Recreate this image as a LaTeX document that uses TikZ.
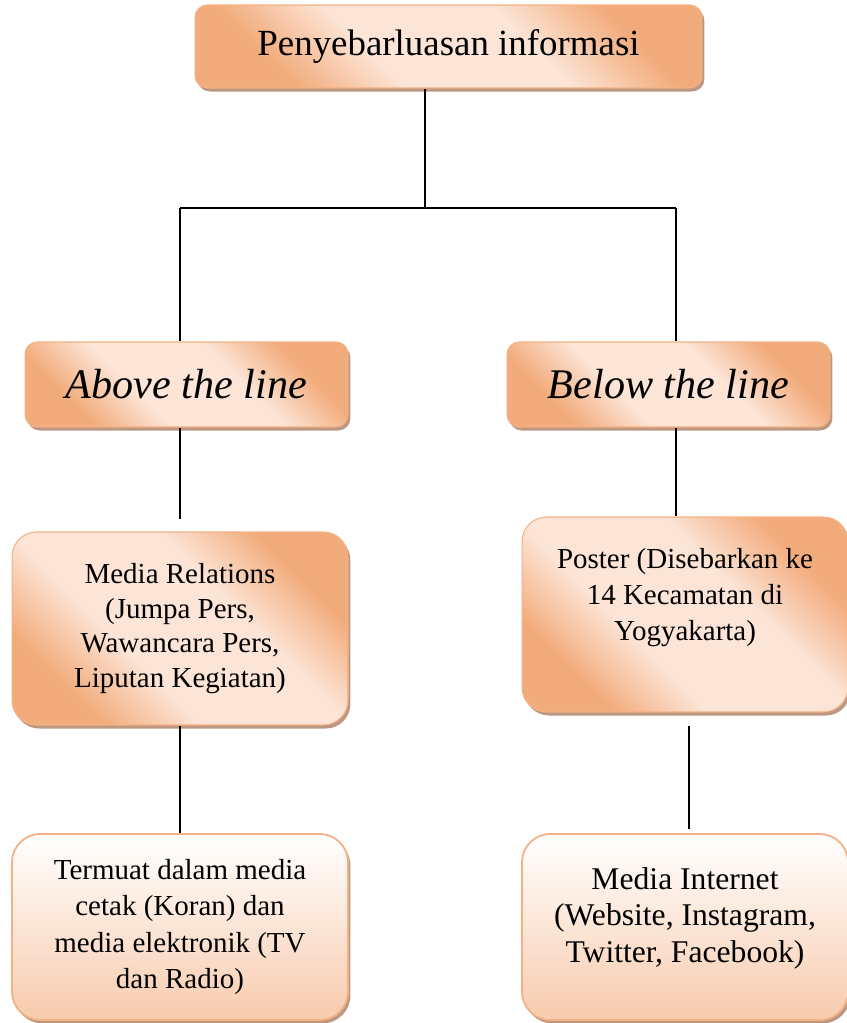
\documentclass[tikz,border=0pt]{standalone}
\usepackage{fontspec}
\setmainfont{Liberation Serif}
\usetikzlibrary{shadows}
\definecolor{peachdark}{RGB}{242,172,124}
\definecolor{peachlite}{RGB}{252,229,215}
\definecolor{peachline}{RGB}{244,177,131}
\definecolor{peachlow}{RGB}{248,203,173}
\definecolor{shadowtone}{RGB}{188,152,130}
\pgfdeclareverticalshading{peachband}{100bp}{color(0bp)=(peachdark); color(27bp)=(peachdark); color(40bp)=(peachlite); color(60bp)=(peachlite); color(73bp)=(peachdark); color(100bp)=(peachdark)}
\tikzset{
  boxshadow/.style={drop shadow={shadow xshift=1.4pt, shadow yshift=-2pt, fill=shadowtone, opacity=1}},
  bandbox/.style={draw=peachline, line width=0.6pt, shading=peachband, shading angle=-45,
    rounded corners=#1, boxshadow, align=center, inner sep=0pt},
  fadebox/.style={draw=peachline, line width=1pt, top color=white, bottom color=peachlow,
    rounded corners=#1, boxshadow, align=center, inner sep=0pt},
  link/.style={line width=1.1pt}
}
\begin{document}
\begin{tikzpicture}[x=0.02cm, y=-0.02cm, line join=round]
  \useasboundingbox (0,0) rectangle (847,1023);
  \node[bandbox=7pt, minimum width=10.14cm, minimum height=1.66cm,
    font=\fontsize{21}{25}\selectfont] (info) at (448.5,46.5) {Penyebarluasan informasi};
  \node[bandbox=7pt, minimum width=6.46cm, minimum height=1.7cm,
    font=\fontsize{24}{28}\selectfont\itshape] (atl) at (186.5,384.5) {Above the line};
  \node[bandbox=7pt, minimum width=6.46cm, minimum height=1.7cm,
    font=\fontsize{24}{28}\selectfont\itshape] (btl) at (668.5,384.5) {Below the line};
  \node[bandbox=14pt, minimum width=6.72cm, minimum height=3.86cm,
    font=\fontsize{16.5}{19.6}\selectfont] (relasi) at (180,628.5)
    {Media Relations\\(Jumpa Pers,\\Wawancara Pers,\\Liputan Kegiatan)};
  \node[bandbox=14pt, minimum width=6.52cm, minimum height=3.9cm,
    font=\fontsize{16.5}{20.6}\selectfont] (poster) at (685,614.5)
    {Poster (Disebarkan ke\\14 Kecamatan di\\Yogyakarta)\\[2pt]~};
  \node[fadebox=16pt, minimum width=6.72cm, minimum height=3.72cm,
    font=\fontsize{16.5}{20.6}\selectfont] (cetak) at (180,927)
    {Termuat dalam media\\cetak (Koran) dan\\media elektronik (TV\\dan Radio)};
  \node[fadebox=16pt, minimum width=6.52cm, minimum height=3.72cm,
    font=\fontsize{18}{20.7}\selectfont] (daring) at (685,927)
    {Media Internet\\(Website, Instagram,\\Twitter, Facebook)\\[-7pt]~};

  \coordinate (split) at (425,208);
  \coordinate (leftfoot) at (180,208);
  \coordinate (rightfoot) at (676,208);
  \coordinate (gapend) at (180,519);
  \coordinate (netup) at (689,726);
  \coordinate (netdown) at (689,829);
  \draw[link]
    (split |- info.south) -- (split)
    (leftfoot) -- (rightfoot)
    (leftfoot) -- (leftfoot |- atl.north)
    (rightfoot) -- (rightfoot |- btl.north)
    (gapend |- atl.south) -- (gapend)
    (rightfoot |- btl.south) -- (rightfoot |- poster.north)
    (relasi.south) -- (cetak.north)
    (netup) -- (netdown);
\end{tikzpicture}
\end{document}
